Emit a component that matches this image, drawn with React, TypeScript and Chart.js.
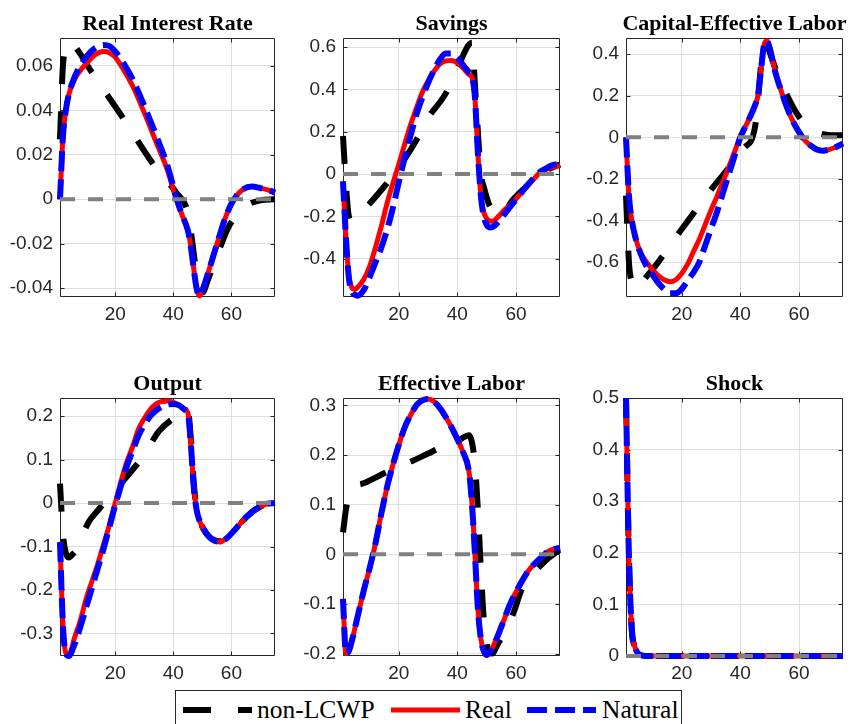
import React, { useEffect, useRef } from "react";
import { Chart, registerables } from "chart.js";

Chart.register(...registerables);

// ---------------- data ----------------
const seriesNames = ["non-LCWP", "Real", "Natural"];

const periodMin = 1;
const periodMax = 75;
const xTicks = [20, 40, 60];
const xTickLabels = ["20", "40", "60"];

const zeroP = [1, 75];
const zeroV = [0, 0];

// Real Interest Rate
const rirYTicks = [-0.04, -0.02, 0, 0.02, 0.04, 0.06];
const rirYLabels = ["-0.04", "-0.02", "0", "0.02", "0.04", "0.06"];
const rirYRange = [-0.044, 0.0726];
const rirNonP = [1, 2, 3, 4, 6, 12, 23, 33, 41, 45, 46, 47, 48, 49, 50, 52, 54, 56, 59, 62, 65, 70, 75];
const rirNonV = [0.027, 0.06, 0.068, 0.071, 0.069, 0.057, 0.036, 0.016, 0.003, -0.006, -0.014, -0.024, -0.034, -0.041, -0.042, -0.036, -0.029, -0.022, -0.0125, -0.007, -0.003, -0.0005, 0];
const rirP = [1, 2, 3, 4, 6, 8, 10, 13, 16, 18, 20, 23, 26, 30, 34, 38, 41, 43, 45, 46, 47, 48, 49, 50, 52, 54, 56, 58, 60, 62, 64, 67, 70, 73, 75];
const rirRealV = [0, 0.028, 0.04, 0.047, 0.054, 0.058, 0.061, 0.065, 0.0665, 0.066, 0.064, 0.058, 0.051, 0.039, 0.026, 0.013, 0.0, -0.007, -0.014, -0.021, -0.031, -0.04, -0.0435, -0.041, -0.033, -0.0245, -0.016, -0.008, -0.002, 0.002, 0.0045, 0.0057, 0.005, 0.004, 0.003];
const rirNatV = [0, 0.028, 0.04, 0.047, 0.055, 0.06, 0.064, 0.068, 0.0695, 0.069, 0.0665, 0.061, 0.054, 0.042, 0.029, 0.015, 0.001, -0.007, -0.014, -0.021, -0.031, -0.04, -0.0435, -0.041, -0.033, -0.0245, -0.016, -0.008, -0.002, 0.002, 0.0045, 0.0057, 0.005, 0.004, 0.003];

// Savings
const savYTicks = [-0.4, -0.2, 0, 0.2, 0.4, 0.6];
const savYLabels = ["-0.4", "-0.2", "0", "0.2", "0.4", "0.6"];
const savYRange = [-0.581, 0.643];
const savNonP = [1, 2, 3, 4, 8, 15, 20, 26, 30, 36, 40, 45, 46, 47, 48, 49, 50, 51, 53, 55, 59, 65, 70, 75];
const savNonV = [0.18, -0.05, -0.2, -0.22, -0.17, -0.06, 0.03, 0.16, 0.265, 0.38, 0.5, 0.62, 0.42, 0.2, 0.0, -0.06, -0.11, -0.15, -0.19, -0.19, -0.12, -0.04, 0.015, 0.045];
const savP = [1, 2, 3, 4, 5, 6, 8, 10, 12, 14, 16, 18, 20, 22, 24, 26, 28, 30, 32, 34, 36, 38, 40, 42, 44, 45, 46, 47, 48, 49, 50, 51, 52, 54, 56, 58, 60, 62, 64, 66, 68, 70, 72, 75];
const savRealV = [-0.035, -0.3, -0.48, -0.535, -0.545, -0.535, -0.5, -0.44, -0.35, -0.25, -0.14, -0.045, 0.045, 0.14, 0.23, 0.31, 0.385, 0.44, 0.485, 0.52, 0.535, 0.537, 0.525, 0.5, 0.47, 0.455, 0.36, 0.1, -0.1, -0.18, -0.21, -0.222, -0.223, -0.2, -0.17, -0.145, -0.117, -0.085, -0.055, -0.025, 0.005, 0.02, 0.03, 0.04];
const savNatV = [-0.035, -0.3, -0.49, -0.555, -0.57, -0.575, -0.55, -0.49, -0.42, -0.35, -0.265, -0.16, -0.04, 0.075, 0.18, 0.28, 0.36, 0.43, 0.49, 0.54, 0.57, 0.57, 0.55, 0.515, 0.48, 0.46, 0.36, 0.1, -0.1, -0.2, -0.24, -0.252, -0.25, -0.225, -0.19, -0.155, -0.12, -0.085, -0.05, -0.02, 0.008, 0.025, 0.04, 0.05];

// Capital-Effective Labor
const capYTicks = [-0.6, -0.4, -0.2, 0, 0.2, 0.4];
const capYLabels = ["-0.6", "-0.4", "-0.2", "0", "0.2", "0.4"];
const capYRange = [-0.768, 0.478];
const capNonP = [1, 2, 3, 4, 5, 8, 12, 17, 23, 29, 35, 41, 45, 46, 47, 48, 49, 50, 52, 55, 58, 61, 65, 70, 75];
const capNonV = [-0.28, -0.6, -0.7, -0.73, -0.72, -0.67, -0.6, -0.5, -0.385, -0.27, -0.165, -0.056, 0.05, 0.18, 0.34, 0.455, 0.45, 0.41, 0.33, 0.23, 0.145, 0.08, 0.032, 0.012, 0.01];
const capP = [1, 2, 3, 4, 6, 8, 10, 12, 14, 16, 18, 20, 22, 24, 26, 28, 30, 32, 34, 36, 38, 40, 42, 44, 45, 46, 47, 48, 49, 50, 51, 52, 54, 56, 58, 60, 62, 64, 66, 68, 70, 72, 75];
const capRealV = [0, -0.28, -0.4, -0.47, -0.555, -0.6, -0.635, -0.665, -0.685, -0.695, -0.685, -0.655, -0.61, -0.55, -0.49, -0.42, -0.35, -0.285, -0.215, -0.145, -0.07, 0.005, 0.06, 0.12, 0.155, 0.2, 0.32, 0.44, 0.465, 0.43, 0.37, 0.31, 0.22, 0.14, 0.075, 0.025, -0.015, -0.04, -0.058, -0.064, -0.06, -0.05, -0.03];
const capNatV = [0, -0.28, -0.4, -0.47, -0.56, -0.62, -0.66, -0.7, -0.73, -0.75, -0.75, -0.73, -0.69, -0.65, -0.6, -0.52, -0.44, -0.36, -0.27, -0.18, -0.09, 0.0, 0.06, 0.12, 0.155, 0.2, 0.32, 0.44, 0.465, 0.43, 0.37, 0.31, 0.22, 0.14, 0.075, 0.025, -0.015, -0.04, -0.058, -0.064, -0.06, -0.05, -0.03];

// Output
const outYTicks = [-0.3, -0.2, -0.1, 0, 0.1, 0.2];
const outYLabels = ["-0.3", "-0.2", "-0.1", "0", "0.1", "0.2"];
const outYRange = [-0.352, 0.242];
const outNonP = [1, 2, 3, 4, 5, 7, 9, 11, 14, 18, 22, 25, 30, 35, 40, 45, 46, 47, 48, 49, 50, 52, 54, 56, 58, 60, 62, 64, 66, 68, 70, 72, 75];
const outNonV = [0.045, -0.07, -0.115, -0.125, -0.12, -0.104, -0.07, -0.042, -0.017, 0.014, 0.045, 0.069, 0.111, 0.165, 0.195, 0.215, 0.15, 0.05, -0.015, -0.04, -0.055, -0.075, -0.085, -0.088, -0.083, -0.07, -0.055, -0.04, -0.027, -0.016, -0.008, -0.002, 0.0];
const outP = [1, 2, 3, 4, 6, 8, 10, 12, 14, 16, 18, 20, 22, 24, 26, 28, 30, 32, 34, 36, 38, 40, 42, 44, 45, 46, 47, 48, 49, 50, 52, 54, 56, 58, 60, 62, 64, 66, 68, 70, 72, 75];
const outRealV = [-0.09, -0.28, -0.345, -0.35, -0.31, -0.27, -0.22, -0.18, -0.14, -0.095, -0.05, 0.0, 0.05, 0.095, 0.13, 0.17, 0.195, 0.215, 0.228, 0.234, 0.235, 0.232, 0.225, 0.215, 0.208, 0.14, 0.04, -0.015, -0.04, -0.055, -0.075, -0.086, -0.089, -0.083, -0.07, -0.055, -0.04, -0.027, -0.016, -0.008, -0.002, 0.0];
const outNatV = [-0.09, -0.28, -0.345, -0.352, -0.325, -0.285, -0.24, -0.195, -0.15, -0.105, -0.055, -0.005, 0.04, 0.085, 0.12, 0.155, 0.18, 0.2, 0.213, 0.222, 0.227, 0.228, 0.225, 0.215, 0.208, 0.14, 0.04, -0.015, -0.04, -0.055, -0.075, -0.086, -0.089, -0.083, -0.07, -0.055, -0.04, -0.027, -0.016, -0.008, -0.002, 0.0];

// Effective Labor
const elYTicks = [-0.2, -0.1, 0, 0.1, 0.2, 0.3];
const elYLabels = ["-0.2", "-0.1", "0", "0.1", "0.2", "0.3"];
const elYRange = [-0.205, 0.315];
const elNonP = [1, 2, 3, 4, 8, 16, 25, 30, 35, 40, 44, 45, 46, 47, 48, 49, 50, 51, 52, 53, 55, 59, 62, 65, 68, 71, 75];
const elNonV = [0.044, 0.09, 0.12, 0.133, 0.143, 0.166, 0.189, 0.203, 0.217, 0.228, 0.24, 0.225, 0.18, 0.09, -0.03, -0.13, -0.18, -0.198, -0.2, -0.19, -0.168, -0.12, -0.07, -0.043, -0.025, -0.008, 0.01];
const elP = [1, 2, 3, 4, 6, 8, 10, 12, 14, 16, 18, 20, 22, 24, 26, 28, 30, 32, 34, 36, 38, 40, 42, 44, 45, 46, 47, 48, 49, 50, 51, 53, 55, 58, 61, 64, 67, 69, 71, 73, 75];
const elRealV = [-0.09, -0.2, -0.195, -0.175, -0.125, -0.075, -0.03, 0.02, 0.08, 0.135, 0.18, 0.22, 0.255, 0.28, 0.3, 0.31, 0.313, 0.308, 0.295, 0.277, 0.256, 0.232, 0.205, 0.165, 0.1, 0.0, -0.11, -0.17, -0.195, -0.203, -0.198, -0.175, -0.146, -0.1, -0.065, -0.035, -0.015, -0.004, 0.006, 0.011, 0.013];
const elNatV = [-0.09, -0.2, -0.195, -0.175, -0.125, -0.075, -0.03, 0.02, 0.08, 0.135, 0.18, 0.22, 0.255, 0.28, 0.3, 0.31, 0.313, 0.308, 0.295, 0.277, 0.256, 0.232, 0.205, 0.165, 0.1, 0.0, -0.11, -0.17, -0.195, -0.203, -0.198, -0.175, -0.146, -0.1, -0.065, -0.035, -0.015, -0.004, 0.006, 0.011, 0.013];

// Shock
const shkYTicks = [0, 0.1, 0.2, 0.3, 0.4, 0.5];
const shkYLabels = ["0", "0.1", "0.2", "0.3", "0.4", "0.5"];
const shkYRange = [0, 0.5];
const shkP = [1, 2, 3, 4, 5, 6, 7, 8, 75];
const shkNonV = [0.5, 0.19, 0.05, 0.018, 0.006, 0.002, 0.0005, 0, 0];
const shkRealV = [0.5, 0.19, 0.05, 0.018, 0.006, 0.002, 0.0005, 0, 0];
const shkNatV = [0.5, 0.19, 0.05, 0.018, 0.006, 0.002, 0.0005, 0, 0];

const panels = [
  { title: "Real Interest Rate", yTicks: rirYTicks, yLabels: rirYLabels, yRange: rirYRange, nonP: rirNonP, nonV: rirNonV, realP: rirP, realV: rirRealV, natP: rirP, natV: rirNatV },
  { title: "Savings", yTicks: savYTicks, yLabels: savYLabels, yRange: savYRange, nonP: savNonP, nonV: savNonV, realP: savP, realV: savRealV, natP: savP, natV: savNatV },
  { title: "Capital-Effective Labor", yTicks: capYTicks, yLabels: capYLabels, yRange: capYRange, nonP: capNonP, nonV: capNonV, realP: capP, realV: capRealV, natP: capP, natV: capNatV },
  { title: "Output", yTicks: outYTicks, yLabels: outYLabels, yRange: outYRange, nonP: outNonP, nonV: outNonV, realP: outP, realV: outRealV, natP: outP, natV: outNatV },
  { title: "Effective Labor", yTicks: elYTicks, yLabels: elYLabels, yRange: elYRange, nonP: elNonP, nonV: elNonV, realP: elP, realV: elRealV, natP: elP, natV: elNatV },
  { title: "Shock", yTicks: shkYTicks, yLabels: shkYLabels, yRange: shkYRange, nonP: shkP, nonV: shkNonV, realP: shkP, realV: shkRealV, natP: shkP, natV: shkNatV },
];

// ---------------- layout / style ----------------
const colLefts = [60, 343, 626];
const colWidths = [215, 217, 217];
const rowTops = [38, 398];
const rowHeights = [259, 258];
const AXIS_W = 58;
const TITLE_H = 38;
const XAXIS_H = 30;
const PAD_R = 8;

const AX_COLOR = "#262626";
const GRID_COLOR = "#dedede";
const TICK_FONT = { family: "'Liberation Sans', Arial, sans-serif", size: 19 };
const BLACK_DASH = [28, 27];
const BLUE_DASH = [20, 8];
const ZERO_DASH = [15, 13];
const LINE_CLIP = 5;

const zip = (p: number[], v: number[]) => p.map((x, i) => ({ x, y: v[i] }));

const framePlugin = (title: string, yTicks: number[]) => ({
  id: "frame",
  beforeDatasetsDraw(chart: any) {
    const { ctx, chartArea: a, scales } = chart;
    ctx.save();
    ctx.strokeStyle = AX_COLOR;
    ctx.lineWidth = 1;
    ctx.beginPath();
    const L = Math.round(a.left) + 0.5, R = Math.round(a.right) - 0.5;
    const T = Math.round(a.top) + 0.5, B = Math.round(a.bottom) - 0.5;
    ctx.rect(L, T, R - L, B - T);
    const tl = 4;
    for (const v of xTicks) {
      const px = Math.round(scales.x.getPixelForValue(v)) + 0.5;
      ctx.moveTo(px, B); ctx.lineTo(px, B - tl);
      ctx.moveTo(px, T); ctx.lineTo(px, T + tl);
    }
    for (const v of yTicks) {
      const py = Math.round(scales.y.getPixelForValue(v)) + 0.5;
      ctx.moveTo(L, py); ctx.lineTo(L + tl, py);
      ctx.moveTo(R, py); ctx.lineTo(R - tl, py);
    }
    ctx.stroke();
    ctx.restore();
  },
  afterDraw(chart: any) {
    const { ctx, chartArea: a } = chart;
    ctx.save();
    ctx.font = "bold 22px 'Liberation Serif', 'Times New Roman', serif";
    ctx.fillStyle = "#000";
    ctx.textAlign = "center";
    ctx.textBaseline = "alphabetic";
    ctx.fillText(title, (a.left + a.right) / 2, a.top - 8.5);
    ctx.restore();
  },
});

function Panel({ spec, left, top, width, height }: any) {
  const ref = useRef<HTMLCanvasElement>(null);
  const cw = AXIS_W + width + PAD_R;
  const ch = TITLE_H + height + XAXIS_H;
  useEffect(() => {
    const chart = new Chart(ref.current as HTMLCanvasElement, {
      type: "line",
      data: {
        datasets: [
          { label: "zero", data: zip(zeroP, zeroV), borderColor: "#808080", borderWidth: 4, borderDash: ZERO_DASH, order: 0, clip: LINE_CLIP },
          { label: seriesNames[2], data: zip(spec.natP, spec.natV), borderColor: "#0000ff", borderWidth: 6, borderDash: BLUE_DASH, order: 1, clip: LINE_CLIP },
          { label: seriesNames[1], data: zip(spec.realP, spec.realV), borderColor: "#ff0000", borderWidth: 5, order: 2, clip: LINE_CLIP },
          { label: seriesNames[0], data: zip(spec.nonP, spec.nonV), borderColor: "#000000", borderWidth: 6, borderDash: BLACK_DASH, order: 3, clip: LINE_CLIP },
        ],
      },
      options: {
        responsive: false,
        animation: false,
        devicePixelRatio: 1,
        layout: { padding: { top: TITLE_H, right: PAD_R, left: 0, bottom: 0 } },
        plugins: { legend: { display: false }, tooltip: { enabled: false }, title: { display: false } },
        elements: {
          point: { radius: 0 },
          line: { cubicInterpolationMode: "monotone", borderCapStyle: "butt", borderJoinStyle: "round", fill: false },
        },
        scales: {
          x: {
            type: "linear",
            min: periodMin,
            max: periodMax,
            afterBuildTicks: (s: any) => { s.ticks = xTicks.map((v) => ({ value: v })); },
            afterFit: (s: any) => { s.height = XAXIS_H; },
            ticks: { callback: (_v: any, i: number) => xTickLabels[i], font: TICK_FONT, color: AX_COLOR, padding: 6, autoSkip: false, maxRotation: 0 },
            grid: { color: GRID_COLOR, drawTicks: false, lineWidth: 1 },
            border: { display: false },
          },
          y: {
            type: "linear",
            min: spec.yRange[0],
            max: spec.yRange[1],
            afterBuildTicks: (s: any) => { s.ticks = spec.yTicks.map((v: number) => ({ value: v })); },
            afterFit: (s: any) => { s.width = AXIS_W; },
            ticks: { callback: (_v: any, i: number) => spec.yLabels[i], font: TICK_FONT, color: AX_COLOR, padding: 7, autoSkip: false },
            grid: { color: GRID_COLOR, drawTicks: false, lineWidth: 1 },
            border: { display: false },
          },
        },
      } as any,
      plugins: [framePlugin(spec.title, spec.yTicks)],
    });
    return () => chart.destroy();
  }, []);
  return (
    <canvas
      ref={ref}
      width={cw}
      height={ch}
      style={{ position: "absolute", left: left - AXIS_W, top: top - TITLE_H, width: cw, height: ch }}
    />
  );
}

function LegendSample({ left, color, width, dash }: any) {
  return (
    <svg width={69} height={10} style={{ position: "absolute", left, top: 705 }}>
      <line x1={0} y1={5} x2={69} y2={5} stroke={color} strokeWidth={width} strokeDasharray={dash ? dash.join(" ") : undefined} />
    </svg>
  );
}

const legendText: any = {
  position: "absolute",
  top: 697,
  fontFamily: "'Liberation Serif', 'Times New Roman', serif",
  fontSize: 25.5,
  lineHeight: "25px",
  color: "#000",
  whiteSpace: "nowrap",
};

export default function App() {
  return (
    <div style={{ position: "absolute", left: 0, top: 0, width: 850, height: 724, overflow: "hidden", background: "#fff" }}>
      {panels.map((p, i) => (
        <Panel
          key={i}
          spec={p}
          left={colLefts[i % 3]}
          top={rowTops[Math.floor(i / 3)]}
          width={colWidths[i % 3]}
          height={rowHeights[Math.floor(i / 3)]}
        />
      ))}
      <div style={{ position: "absolute", left: 175, top: 690, width: 507, height: 44, border: `1.5px solid ${AX_COLOR}`, boxSizing: "border-box", background: "#fff" }} />
      <LegendSample left={183} color="#000" width={6} dash={BLACK_DASH} />
      <span style={{ ...legendText, left: 257 }}>{seriesNames[0]}</span>
      <LegendSample left={391} color="#ff0000" width={5} />
      <span style={{ ...legendText, left: 465 }}>{seriesNames[1]}</span>
      <LegendSample left={527} color="#0000ff" width={6} dash={BLUE_DASH} />
      <span style={{ ...legendText, left: 602 }}>{seriesNames[2]}</span>
    </div>
  );
}
